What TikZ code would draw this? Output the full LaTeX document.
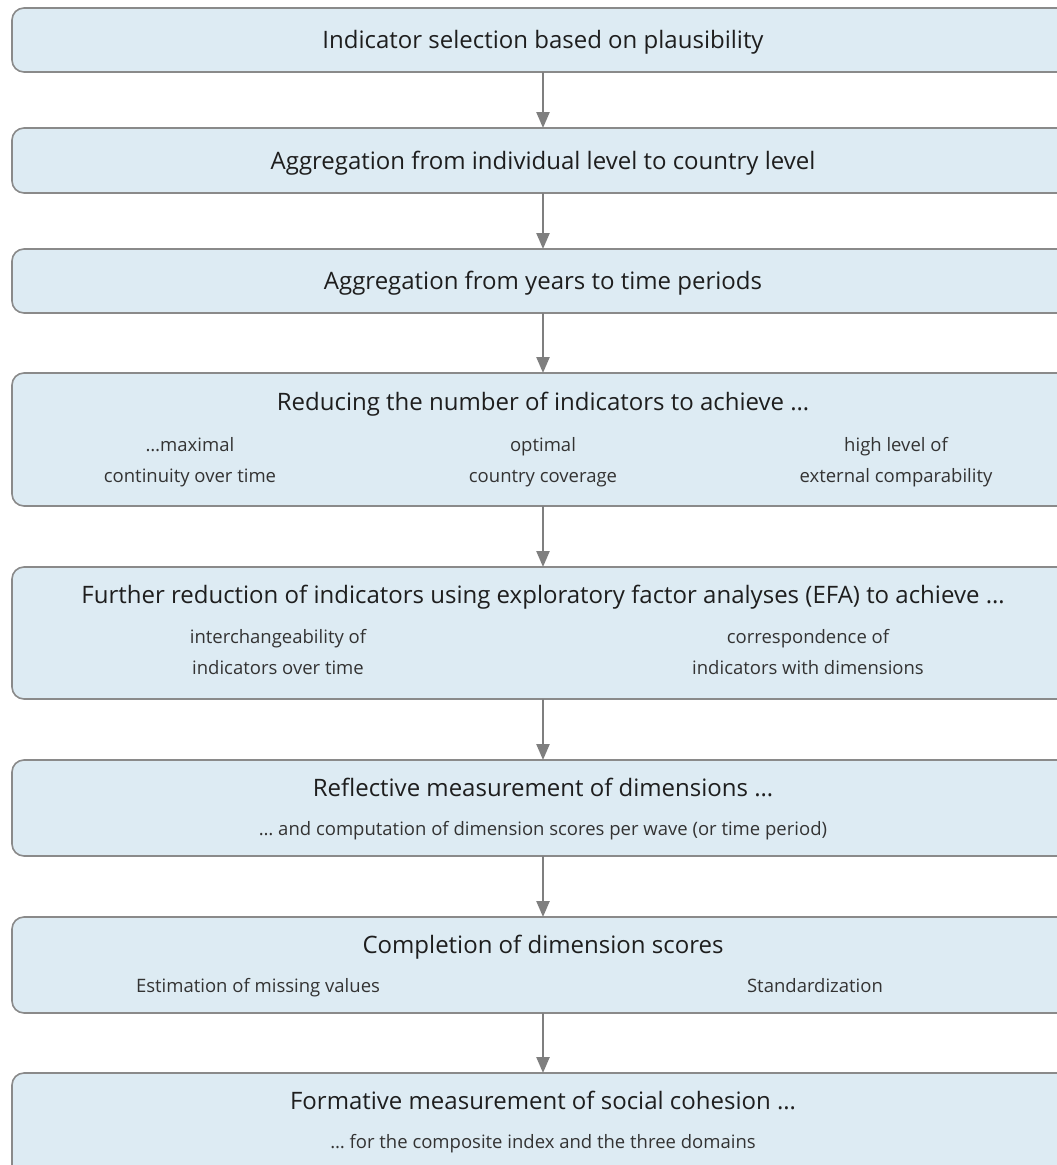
\documentclass[tikz,border=0pt]{standalone}
\usepackage{fontspec}
\setmainfont{Open Sans}
\usetikzlibrary{arrows.meta}
\definecolor{boxfill}{HTML}{DDEBF3}
\definecolor{boxline}{HTML}{8A8A8A}
\definecolor{arrowc}{HTML}{7F7F7F}
\definecolor{titlec}{HTML}{1E1E1E}
\definecolor{subc}{HTML}{333333}
\tikzset{
  stage/.style={draw=boxline, line width=1.6pt, fill=boxfill, rounded corners=12pt},
  ttl/.style={text=titlec, font=\fontsize{24}{28}\selectfont, inner sep=0pt, anchor=base},
  sub/.style={text=subc, font=\fontsize{18.5}{22}\selectfont, inner sep=0pt, anchor=base},
  flow/.style={draw=arrowc, line width=2.4pt, -{Triangle[width=13pt,length=16pt]}}
}
\begin{document}
\begin{tikzpicture}[x=1pt,y=-1pt]
\useasboundingbox (0,0) rectangle (1057,1165);
% boxes
\draw[stage] (12,8) rectangle (1074,72);
\coordinate (b1b) at (543,72);
\draw[stage] (12,128) rectangle (1074,193);
\coordinate (b2t) at (543,128); \coordinate (b2b) at (543,193);
\draw[stage] (12,249) rectangle (1074,313);
\coordinate (b3t) at (543,249); \coordinate (b3b) at (543,313);
\draw[stage] (12,373) rectangle (1074,506);
\coordinate (b4t) at (543,373); \coordinate (b4b) at (543,506);
\draw[stage] (12,567) rectangle (1074,699);
\coordinate (b5t) at (543,567); \coordinate (b5b) at (543,699);
\draw[stage] (12,760) rectangle (1074,856);
\coordinate (b6t) at (543,760); \coordinate (b6b) at (543,856);
\draw[stage] (12,917) rectangle (1074,1013);
\coordinate (b7t) at (543,917); \coordinate (b7b) at (543,1013);
\draw[stage] (12,1073) rectangle (1074,1190);
\coordinate (b8t) at (543,1073);
% texts
\node[ttl] (t1) at (543,48.5) {Indicator selection based on plausibility};
\node[ttl] (t2) at (543,169) {Aggregation from individual level to country level};
\node[ttl] (t3) at (543,289.5) {Aggregation from years to time periods};
\node[ttl] (t4) at (543,410) {Reducing the number of indicators to achieve \dots};
\node[sub] (s4a1) at (190,451) {\dots maximal};
\node[sub] (s4a2) at (190,482) {continuity over time};
\node[sub] (s4b1) at (543,451) {optimal};
\node[sub] (s4b2) at (543,482) {country coverage};
\node[sub] (s4c1) at (896,451) {high level of};
\node[sub] (s4c2) at (896,482) {external comparability};
\node[ttl] (t5) at (543,603) {Further reduction of indicators using exploratory factor analyses (EFA) to achieve \dots};
\node[sub] (s5a1) at (278,643) {interchangeability of};
\node[sub] (s5a2) at (278,674) {indicators over time};
\node[sub] (s5b1) at (808,643) {correspondence of};
\node[sub] (s5b2) at (808,674) {indicators with dimensions};
\node[ttl] (t6) at (543,796) {Reflective measurement of dimensions \dots};
\node[sub] (s6) at (543,835) {\dots\ and computation of dimension scores per wave (or time period)};
\node[ttl] (t7) at (543,953) {Completion of dimension scores};
\node[sub] (s7a) at (258,992) {Estimation of missing values};
\node[sub] (s7b) at (815,992) {Standardization};
\node[ttl] (t8) at (543,1109) {Formative measurement of social cohesion \dots};
\node[sub] (s8) at (543,1148) {\dots\ for the composite index and the three domains};
% arrows
\draw[flow] (b1b) -- (b2t);
\draw[flow] (b2b) -- (b3t);
\draw[flow] (b3b) -- (b4t);
\draw[flow] (b4b) -- (b5t);
\draw[flow] (b5b) -- (b6t);
\draw[flow] (b6b) -- (b7t);
\draw[flow] (b7b) -- (b8t);
\end{tikzpicture}
\end{document}
